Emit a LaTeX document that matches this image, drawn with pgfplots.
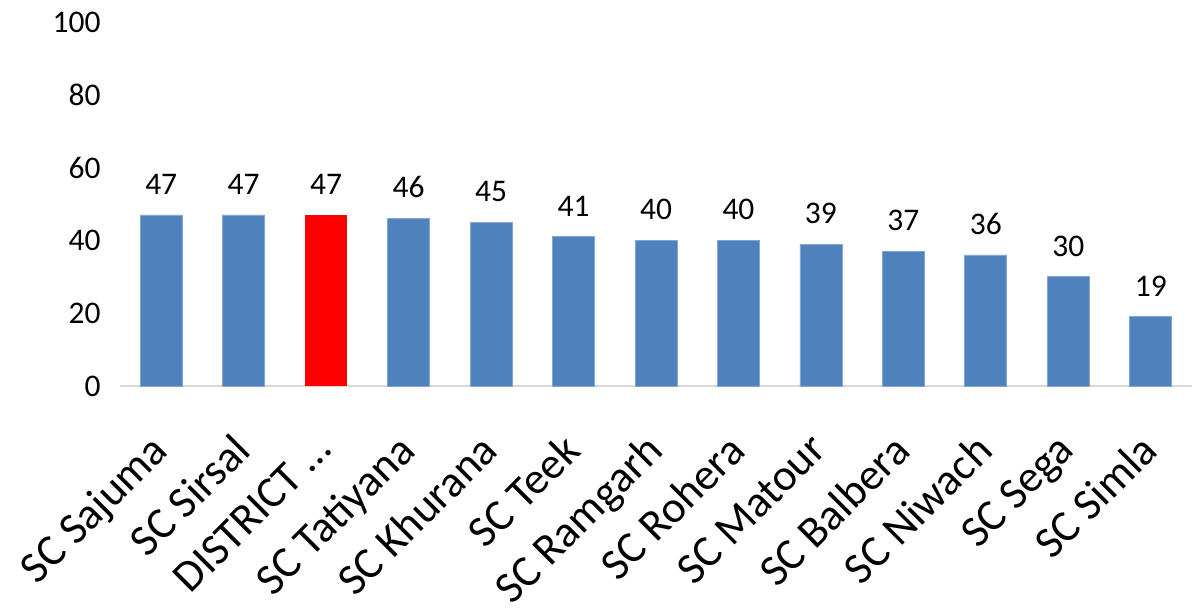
\documentclass[border=0pt]{standalone}
\usepackage{fontspec}
\setmainfont{Carlito}
\usepackage{pgfplots}
\pgfplotsset{compat=1.18}
\definecolor{barblue}{HTML}{4F81BD}
\definecolor{baseline}{HTML}{D9D9D9}

\begin{document}
\begin{tikzpicture}
% fixed canvas around the plot area
\useasboundingbox (-60bp,-114.5bp) rectangle (536bp,193bp);
\begin{axis}[
  at={(0,0)}, anchor=south west,
  width=536bp, height=182bp, scale only axis,
  xmin=-0.5, xmax=12.5, ymin=0, ymax=100,
  ytick={0,20,...,100},
  xtick={0,...,12},
  xticklabels={SC Sajuma, SC Sirsal, DISTRICT …, SC Tatiyana, SC Khurana, SC Teek, SC Ramgarh, SC Rohera, SC Matour, SC Balbera, SC Niwach, SC Sega, SC Simla},
  axis x line*=bottom, axis y line*=left,
  x axis line style={draw=baseline, line width=1.2bp, -},
  y axis line style={draw=none},
  major tick length=0pt,
  tick style={draw=none},
  /pgf/number format/assume math mode=true,
  yticklabel style={font=\fontsize{15.8}{19}\selectfont, inner sep=0pt, anchor=east, xshift=-9.5bp},
  xticklabel style={font=\fontsize{22.3}{26}\selectfont, inner sep=0pt, xshift=-6.5bp, yshift=-22.5bp, rotate=45, anchor=north east},
  ybar, bar width=21bp, bar shift=0pt,
  nodes near coords,
  every node near coord/.append style={font=\fontsize{15.8}{19}\selectfont, inner sep=0pt, anchor=south, yshift=10bp, text=black},
  clip=false,
]
\addplot[fill=barblue, draw=barblue!70!white, line width=0.4bp] coordinates {
  (0,47) (1,47) (3,46) (4,45) (5,41) (6,40) (7,40) (8,39) (9,37) (10,36) (11,30) (12,19)
};
\addplot[fill=red, draw=none] coordinates {(2,47)};
\end{axis}
\end{tikzpicture}
\end{document}
